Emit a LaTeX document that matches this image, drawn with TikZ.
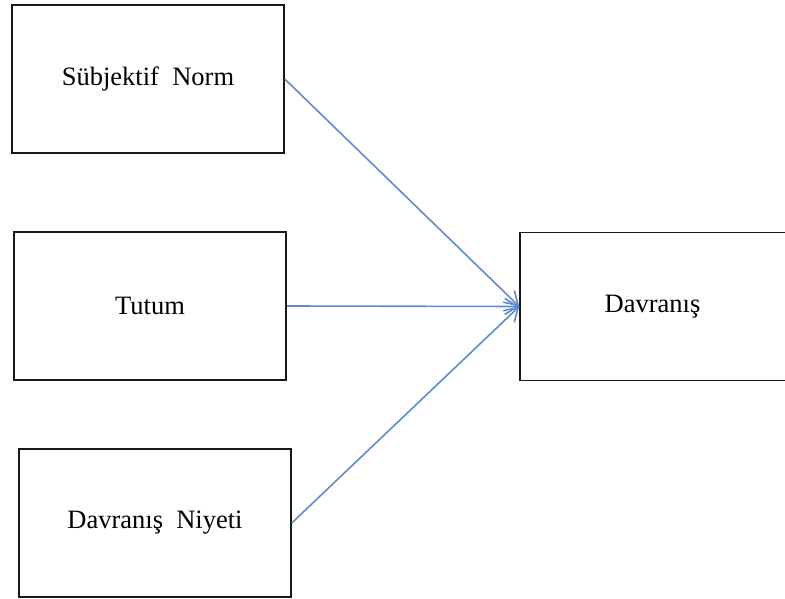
\documentclass[tikz,border=0pt]{standalone}
\usepackage{fontspec}
\setmainfont{Liberation Serif}
\usetikzlibrary{arrows.meta}
\definecolor{linkblue}{RGB}{96,140,204}
\definecolor{boxline}{RGB}{25,25,25}
\begin{document}
\begin{tikzpicture}[x=1pt,y=-1pt,
  label/.style={font=\fontsize{26.5}{32}\selectfont},
  box/.style={draw=boxline,line width=1.5pt,minimum width=272pt,minimum height=148pt,
    inner sep=0pt,label},
  link/.style={draw=linkblue,line width=1.6pt,-{Straight Barb[length=13pt,width=16pt,line width=1.6pt]}}]
\useasboundingbox (0,0) rectangle (785,599);
\node[box] (norm) at (148,79) {Sübjektif~~Norm};
\node[box] (tutum) at (150,306) {Tutum};
\node[box] (niyet) at (155,523) {Davranış~~Niyeti};
\node[box] (davranis) at (656,306.5) {};
\node[label] (davlabel) at (652.5,306.5) {Davranış};
\draw[link] (norm.east) -- (davranis.west);
\draw[link] (tutum.east) -- (davranis.west);
\draw[link] (niyet.east) -- (davranis.west);
\end{tikzpicture}
\end{document}
